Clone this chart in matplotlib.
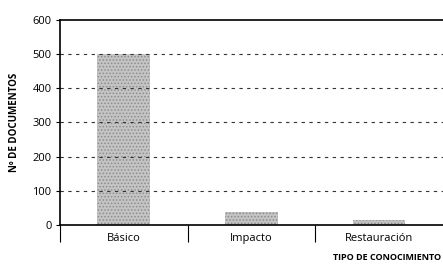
import matplotlib
matplotlib.use("Agg")
import matplotlib.pyplot as plt

categories = ["Básico", "Impacto", "Restauración"]
values = [500, 38, 15]
yticks = [0, 100, 200, 300, 400, 500, 600]

plt.rcParams['font.family'] = ['Open Sans', 'DejaVu Sans']
plt.rcParams['hatch.linewidth'] = 0.7

fig = plt.figure(figsize=(4.43, 2.65), dpi=100)
ax = fig.add_axes([0.135, 0.151, 0.865, 0.774])

x = list(range(len(categories)))
ax.bar(x, values, width=0.41, color='#c4c4c4', hatch='.....', edgecolor='#8c8c8c',
       linewidth=0, zorder=1)

for v in yticks[1:-1]:
    ax.axhline(v, color='#333333', lw=0.8, ls=(0, (3, 4)), zorder=2)

ax.set_xlim(-0.5, 2.5)
ax.set_ylim(0, 600)
ax.set_yticks(yticks)
ax.set_xticks(x)
ax.set_xticklabels(categories, fontsize=8)
ax.set_xticks([-0.5, 0.5, 1.5], minor=True)
ax.tick_params(axis='x', which='major', length=0, pad=6)
ax.tick_params(axis='x', which='minor', length=12, width=0.8, direction='out')
ax.tick_params(axis='y', length=3, width=0.8, labelsize=8, pad=3)

for s in ['left', 'bottom', 'top']:
    ax.spines[s].set_linewidth(1.2)
ax.spines['right'].set_visible(False)

ax.set_ylabel("Nº DE DOCUMENTOS", fontsize=7, fontweight='bold', labelpad=9)
fig.text(0.995, 0.03, "TIPO DE CONOCIMIENTO", fontsize=6.5, fontweight='bold',
         ha='right', va='center')

fig.savefig("out.png", dpi=100)
